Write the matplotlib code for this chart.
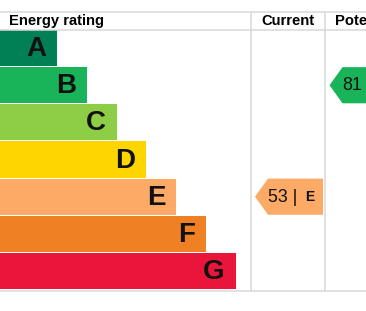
import matplotlib
matplotlib.use("Agg")
import matplotlib.pyplot as plt
from matplotlib.patches import Rectangle, Polygon

bands = ["A", "B", "C", "D", "E", "F", "G"]
band_colors = ["#008054", "#19b459", "#8dce46", "#ffd500", "#fcaa65", "#ef8023", "#e9153b"]
headers = ["Energy rating", "Current", "Potential"]
current_value = 53
current_band = "E"
potential_value = 81
potential_band = "B"

W, H = 366, 311
fig = plt.figure(figsize=(W / 100, H / 100), dpi=100)
ax = fig.add_axes([0, 0, 1, 1])
ax.set_xlim(0, W)
ax.set_ylim(H, 0)
ax.axis("off")

font = "Liberation Sans"
line_c = "#d9d9d9"

top_y = 11.5
head_bot = 29.5
row_top = 30
row_h = 37.15
bottom_y = 291
col1 = 251
col2 = 325

# grid lines
for y in (top_y, head_bot, bottom_y):
    ax.plot([0, W], [y, y], color=line_c, lw=1.1, solid_capstyle="butt")
for x in (col1, col2):
    ax.plot([x, x], [top_y, bottom_y], color=line_c, lw=1.1, solid_capstyle="butt")

# headers
hy = (top_y + head_bot) / 2 + 0.5
ax.text(9, hy, headers[0], fontsize=10.6, fontweight="bold", family=font, ha="left", va="center")
ax.text((col1 + col2) / 2, hy, headers[1], fontsize=10.6, fontweight="bold", family=font, ha="center", va="center")
ax.text(335, hy, headers[2], fontsize=10.6, fontweight="bold", family=font, ha="left", va="center")

# bands
for i, (b, c) in enumerate(zip(bands, band_colors)):
    y0 = row_top + i * row_h
    w = 57 + i * 29.8
    ax.add_patch(Rectangle((0, y0), w, row_h - 1, facecolor=c, edgecolor="none"))
    ax.text(w - 11, y0 + row_h / 2 + 0.5, b, fontsize=20, fontweight="bold", family=font,
            ha="right", va="center", color="#111111")


def arrow(x_tip, band, value, show_band):
    i = bands.index(band)
    y0 = row_top + i * row_h
    h = row_h - 1
    tip = 13
    length = 68
    pts = [(x_tip, y0 + h / 2), (x_tip + tip, y0), (x_tip + length, y0),
           (x_tip + length, y0 + h), (x_tip + tip, y0 + h)]
    ax.add_patch(Polygon(pts, closed=True, facecolor=band_colors[i], edgecolor="none"))
    cy = y0 + h / 2 + 0.5
    if show_band:
        ax.text(x_tip + 13, cy, f"{value} |", fontsize=12.8, family=font, ha="left", va="center", color="#111111")
        ax.text(x_tip + 50, cy, band, fontsize=10, fontweight="bold", family=font, ha="left", va="center", color="#111111")
    else:
        ax.text(x_tip + 13, cy, f"{value}", fontsize=12.8, family=font, ha="left", va="center", color="#111111")


arrow(255, current_band, current_value, True)
arrow(329.5, potential_band, potential_value, False)

fig.savefig("out.png", dpi=100)
